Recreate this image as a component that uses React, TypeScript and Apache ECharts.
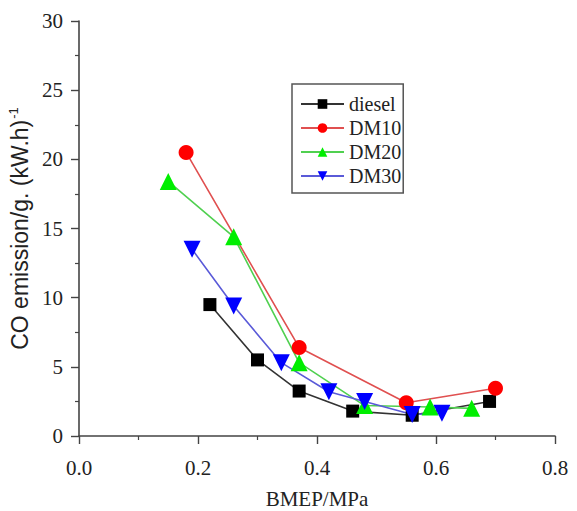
import React, { useEffect, useRef } from "react";
import * as echarts from "echarts";

const dieselX = [0.22, 0.30, 0.37, 0.46, 0.56, 0.69];
const dieselY = [9.5, 5.5, 3.25, 1.8, 1.5, 2.5];
const dm10X = [0.18, 0.37, 0.55, 0.70];
const dm10Y = [20.5, 6.4, 2.4, 3.45];
const dm20X = [0.15, 0.26, 0.37, 0.48, 0.59, 0.66];
const dm20Y = [18.4, 14.4, 5.3, 2.2, 2.1, 2.0];
const dm30X = [0.19, 0.26, 0.34, 0.42, 0.48, 0.56, 0.61];
const dm30Y = [13.5, 9.4, 5.3, 3.2, 2.5, 1.55, 1.65];
const seriesNames = ["diesel", "DM10", "DM20", "DM30"];

const zip = (xs: number[], ys: number[]) => xs.map((x, i) => [x, ys[i]]);

export default function App() {
  const ref = useRef<HTMLDivElement>(null);
  useEffect(() => {
    if (!ref.current) return;
    const chart = echarts.init(ref.current, undefined, { renderer: "svg" });
    const serif = "Liberation Serif";
    const sans = "Liberation Sans";
    const axisCommon = {
      axisLine: { show: true, onZero: false, lineStyle: { color: "#444", width: 1.6 } },
      axisTick: { show: true, inside: false, length: 8, lineStyle: { color: "#444", width: 1.4 } },
      minorTick: { show: true, splitNumber: 2, length: 4, lineStyle: { color: "#444", width: 1.2 } },
      splitLine: { show: false },
      minorSplitLine: { show: false },
    };
    const mk = (
      name: string,
      data: number[][],
      lineColor: string,
      symColor: string,
      symbol: string,
      size: number,
      rotate = 0
    ) => ({
      type: "line",
      name,
      data,
      symbol,
      symbolSize: size,
      symbolRotate: rotate,
      showSymbol: true,
      lineStyle: { color: lineColor, width: 1.6 },
      itemStyle: { color: symColor, borderWidth: 0 },
      emphasis: { disabled: true },
    });
    chart.setOption({
      animation: false,
      backgroundColor: "#fff",
      textStyle: { fontFamily: serif },
      grid: {
        left: 79,
        right: 22,
        top: 21,
        bottom: 75,
        containLabel: false,
        outerBoundsMode: "none",
      },
      xAxis: {
        type: "value",
        min: 0,
        max: 0.8,
        interval: 0.2,
        name: "BMEP/MPa",
        nameLocation: "middle",
        nameGap: 52,
        nameTextStyle: { fontFamily: serif, fontSize: 21, color: "#222" },
        axisLabel: {
          show: true,
          margin: 21,
          fontFamily: serif,
          fontSize: 21,
          color: "#222",
          formatter: (v: number) => v.toFixed(1),
        },
        ...axisCommon,
      },
      yAxis: {
        type: "value",
        min: 0,
        max: 30,
        interval: 5,
        name: "{a|CO emission/g. (kW.h)}{b|-1}",
        nameLocation: "middle",
        nameGap: 42,
        nameTextStyle: {
          color: "#222",
          rich: {
            a: { fontFamily: sans, fontSize: 23, color: "#222" },
            b: { fontFamily: sans, fontSize: 13, color: "#222", padding: [0, 0, 13, 1] },
          },
        },
        axisLabel: { show: true, margin: 16, fontFamily: serif, fontSize: 21, color: "#222" },
        ...axisCommon,
      },
      legend: {
        orient: "vertical",
        left: 292,
        top: 84,
        padding: [10, 2, 7, 8],
        itemWidth: 43,
        itemHeight: 12,
        itemGap: 4,
        backgroundColor: "#fff",
        borderColor: "#555",
        borderWidth: 1.5,
        borderRadius: 0,
        data: seriesNames,
        textStyle: { fontFamily: serif, fontSize: 20, color: "#222" },
      },
      series: [
        mk(seriesNames[0], zip(dieselX, dieselY), "#333", "#000", "rect", 13),
        mk(seriesNames[1], zip(dm10X, dm10Y), "#e05050", "#ff0000", "circle", 15),
        mk(seriesNames[2], zip(dm20X, dm20Y), "#50d050", "#00ee00", "triangle", 17),
        mk(seriesNames[3], zip(dm30X, dm30Y), "#5a5ad8", "#0000ff", "triangle", 17, 180),
      ],
    });
    return () => chart.dispose();
  }, []);
  return (
    <div
      ref={ref}
      style={{ position: "fixed", left: 0, top: 0, width: 577, height: 511, background: "#fff" }}
    />
  );
}
